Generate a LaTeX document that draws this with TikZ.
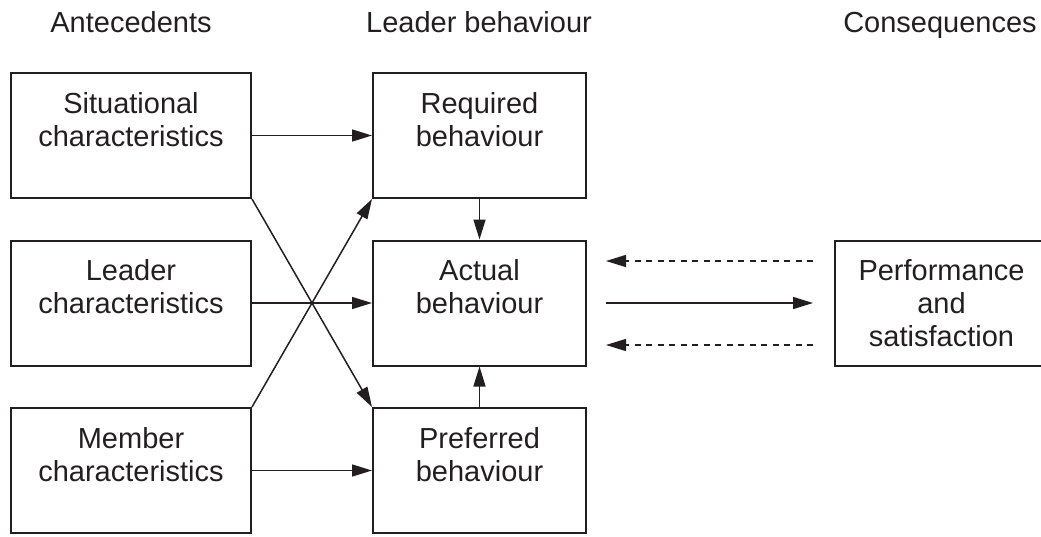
\documentclass[tikz,border=0pt]{standalone}
\usepackage{fontspec}
\setmainfont{Liberation Sans}
\usetikzlibrary{arrows.meta}
\definecolor{ink}{HTML}{231F20}
\tikzset{
	box/.style={draw=ink, line width=2pt, minimum height=125pt, align=center, inner sep=0pt},
	antebox/.style={box, minimum width=240pt},
	leadbox/.style={box, minimum width=213pt},
	edge/.style={-{Triangle[length=20pt,width=12pt]}, draw=ink, line width=1.5pt}
}

\begin{document}
\begin{tikzpicture}[x=1pt, y=-1pt, font=\fontsize{29}{33}\selectfont, text=ink]
		\useasboundingbox (0, 0) rectangle (1041, 536);
		
		\node[anchor=base] (hant) at (131, 32) {Antecedents};
		\node[anchor=base] (hlead) at (479, 32) {Leader behaviour};
		\node[anchor=base] (hcons) at (940, 32) {Consequences};
		
		\node[antebox] (sit) at (131, 135.5) {Situational\\characteristics\\\mbox{}};
		\node[antebox] (lead) at (131, 303) {Leader\\characteristics\\\mbox{}};
		\node[antebox] (memb) at (131, 470.5) {Member\\characteristics\\\mbox{}};
		
		\node[leadbox] (req) at (479.5, 135.5) {Required\\behaviour\\\mbox{}};
		\node[leadbox] (act) at (479.5, 303) {Actual\\behaviour\\\mbox{}};
		\node[leadbox] (pref) at (479.5, 470.5) {Preferred\\behaviour\\\mbox{}};
		
		\node[leadbox] (perf) at (941.5, 303) {Performance\\and\\satisfaction};
		
		\draw[edge] (sit) -- (req);
		\draw[edge] (lead) -- (act);
		\draw[edge] (memb) -- (pref);
		\draw[edge] (sit.south east) -- (pref.north west);
		\draw[edge] (memb.north east) -- (req.south west);
		\draw[edge] (req) -- (act);
		\draw[edge] (pref) -- (act);
		
		\draw[edge, shorten <=19pt, shorten >=21pt] (act) -- (perf);
		\draw[edge, dash pattern=on 6pt off 5.5pt, shorten <=21pt, shorten >=19pt] ([yshift=42pt]perf.west) -- ([yshift=42pt]act.east);
		\draw[edge, dash pattern=on 6pt off 5.5pt, shorten <=21pt, shorten >=19pt] ([yshift=-42pt]perf.west) -- ([yshift=-42pt]act.east);
		\end{tikzpicture}
\end{document}
